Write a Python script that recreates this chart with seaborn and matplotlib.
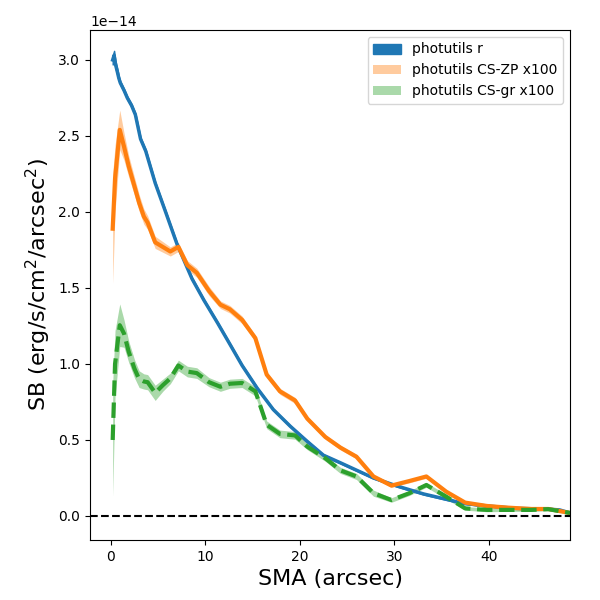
import numpy as np
import matplotlib
matplotlib.use('Agg')
import matplotlib.pyplot as plt
import seaborn as sns

# surface brightness in units of 1e-14 erg/s/cm^2/arcsec^2
sma_r = [0.2, 0.35, 0.5, 0.7, 0.85, 1.0, 1.4, 1.75, 2.2, 2.6, 3.15, 3.7, 4.7, 5.8,
         7.0, 7.9, 8.6, 9.85, 11.3, 12.65, 13.9, 15.5, 17.2, 19.0, 20.8, 22.5,
         24.3, 25.7, 27.8, 30.3, 33.1, 35.5, 37.3, 39.8, 42.9, 46.3, 47.5, 48.6]
sb_r = [3.00, 3.03, 2.97, 2.92, 2.88, 2.85, 2.80, 2.75, 2.70, 2.64, 2.48, 2.40, 2.19, 2.00,
        1.79, 1.66, 1.56, 1.42, 1.27, 1.125, 0.99, 0.84, 0.70, 0.59, 0.49, 0.40,
        0.35, 0.31, 0.25, 0.197, 0.145, 0.11, 0.083, 0.066, 0.05, 0.045, 0.04, 0.02]
err_r = [0.03, 0.03, 0.025, 0.02, 0.015, 0.012, 0.01, 0.01, 0.01, 0.01, 0.01, 0.01, 0.008, 0.008,
         0.008, 0.008, 0.008, 0.006, 0.006, 0.006, 0.006, 0.005, 0.005, 0.005, 0.005, 0.005,
         0.004, 0.004, 0.004, 0.004, 0.004, 0.004, 0.003, 0.003, 0.003, 0.003, 0.003, 0.003]

sma_cs = [0.2, 0.45, 0.95, 1.4, 1.9, 2.5, 3.0, 3.5, 3.9, 4.7, 5.5, 6.3, 7.15, 8.1, 9.1, 10.4,
          11.6, 12.6, 13.9, 15.3, 16.5, 17.9, 19.5, 20.8, 22.7, 24.3, 26.0, 27.8,
          29.7, 31.6, 33.4, 35.5, 37.5, 39.8, 42.0, 44.5, 46.3, 48.6]
sb_zp = [1.89, 2.22, 2.54, 2.43, 2.30, 2.17, 2.06, 1.97, 1.93, 1.80, 1.77, 1.74, 1.77, 1.65,
         1.60, 1.48, 1.39, 1.36, 1.29, 1.17, 0.93, 0.82, 0.76, 0.64, 0.52, 0.45, 0.39, 0.26,
         0.20, 0.23, 0.26, 0.16, 0.088, 0.066, 0.055, 0.046, 0.046, 0.02]
err_zp = [0.36, 0.22, 0.13, 0.09, 0.07, 0.06, 0.055, 0.05, 0.045, 0.04, 0.035, 0.03, 0.03,
          0.03, 0.03, 0.03, 0.025, 0.025, 0.025, 0.02, 0.02, 0.02, 0.02, 0.015, 0.015, 0.015,
          0.015, 0.012, 0.012, 0.012, 0.012, 0.01, 0.01, 0.01, 0.008, 0.008, 0.008, 0.008]
sb_gr = [0.50, 1.00, 1.255, 1.20, 1.08, 0.97, 0.90, 0.885, 0.88, 0.81, 0.86, 0.905, 0.99,
         0.95, 0.94, 0.88, 0.85, 0.87, 0.875, 0.82, 0.60, 0.54, 0.53, 0.456, 0.38, 0.30,
         0.26, 0.15, 0.105, 0.15, 0.204, 0.127, 0.05, 0.04, 0.04, 0.04, 0.045, 0.02]
err_gr = [0.37, 0.22, 0.14, 0.09, 0.07, 0.06, 0.055, 0.05, 0.05, 0.05, 0.04, 0.035, 0.035,
          0.035, 0.035, 0.03, 0.03, 0.03, 0.03, 0.03, 0.025, 0.025, 0.025, 0.02, 0.02, 0.02,
          0.02, 0.02, 0.015, 0.015, 0.015, 0.015, 0.012, 0.012, 0.01, 0.01, 0.01, 0.01]

SCALE = 1e-14

fig, ax = plt.subplots(figsize=(6, 6), dpi=100)
fig.subplots_adjust(left=0.15, right=0.95, bottom=0.1, top=0.95)

x_r = np.array(sma_r)
y_r = np.array(sb_r) * SCALE
e_r = np.array(err_r) * SCALE
x_c = np.array(sma_cs)
y_zp = np.array(sb_zp) * SCALE
e_zp = np.array(err_zp) * SCALE
y_gr = np.array(sb_gr) * SCALE
e_gr = np.array(err_gr) * SCALE

ax.fill_between(x_r, y_r - e_r, y_r + e_r, color='C0', alpha=1.0, label='photutils r')
sns.lineplot(x=x_r, y=y_r, ax=ax, color='C0', lw=2.5, legend=False, sort=False)

ax.fill_between(x_c, y_zp - e_zp, y_zp + e_zp, color='C1', alpha=0.4, lw=0,
                label='photutils CS-ZP x100')
sns.lineplot(x=x_c, y=y_zp, ax=ax, color='C1', lw=3, legend=False, sort=False)

ax.fill_between(x_c, y_gr - e_gr, y_gr + e_gr, color='C2', alpha=0.4, lw=0,
                label='photutils CS-gr x100')
sns.lineplot(x=x_c, y=y_gr, ax=ax, color='C2', lw=3, ls='--', legend=False, sort=False)

ax.axhline(0, color='k', ls='--', lw=1.5)

ax.set_xlim(-2.2, 48.6)
ax.set_ylim(-0.158 * SCALE, 3.197 * SCALE)
ax.set_xlabel('SMA (arcsec)', fontsize=16)
ax.set_ylabel(r'SB (erg/s/cm$^2$/arcsec$^2$)', fontsize=16)
ax.legend(loc='upper right')

plt.savefig('out.png', dpi=100)
plt.close()
